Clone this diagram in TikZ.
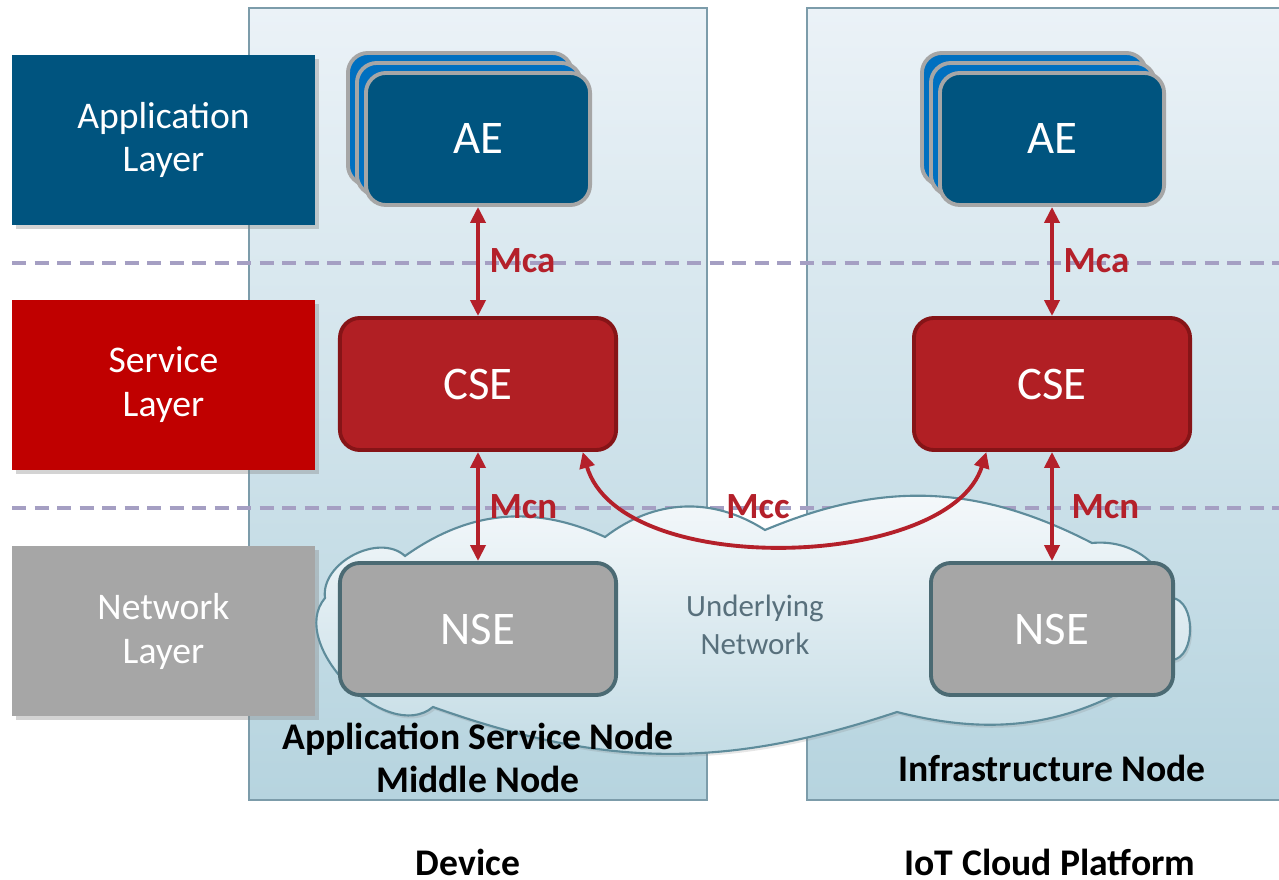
\documentclass[tikz,border=0pt]{standalone}
\usepackage{fontspec}
\setmainfont{Carlito}
\usetikzlibrary{shadows,arrows.meta}
\definecolor{aeblue}{HTML}{00547F}
\definecolor{aeback}{HTML}{0070C0}
\definecolor{aegray}{HTML}{A6A6A6}
\definecolor{csered}{HTML}{B11F24}
\definecolor{csedark}{HTML}{861417}
\definecolor{srvred}{HTML}{C00000}
\definecolor{nsegray}{HTML}{A6A6A6}
\definecolor{nseline}{HTML}{4B6A73}
\definecolor{paneltop}{HTML}{EBF2F7}
\definecolor{panelbot}{HTML}{B6D4DF}
\definecolor{panelline}{HTML}{7C9CAA}
\definecolor{dashcol}{HTML}{A59FC3}
\definecolor{arrowred}{HTML}{B4202A}
\definecolor{cloudline}{HTML}{5E8C9B}
\definecolor{cloudtxt}{HTML}{58707C}
\tikzstyle{layer}=[rectangle, minimum width=3.03cm, minimum height=1.7cm, inner sep=0pt, align=center, text=white, font=\fontsize{10.7}{12.5}\selectfont, drop shadow={opacity=0.35, shadow xshift=0.04cm, shadow yshift=-0.04cm}]
\tikzstyle{entity}=[rectangle, rounded corners=0.2cm, line width=1.1pt, inner sep=0pt, text=white, font=\fontsize{13.3}{16}\selectfont]
\tikzstyle{panel}=[draw=panelline, line width=0.45pt, top color=paneltop, bottom color=panelbot]
\tikzstyle{layerline}=[draw=dashcol, line width=1.4pt, dash pattern=on 4pt off 2.4pt]
\tikzstyle{cloudfill}=[draw=cloudline, line width=0.6pt, top color=white!60!paneltop, bottom color=panelbot!85, drop shadow={opacity=0.2, shadow xshift=0.02cm, shadow yshift=-0.03cm}]
\tikzstyle{link}=[draw=arrowred, line width=1.1pt, {Triangle[length=0.16cm,width=0.15cm]}-{Triangle[length=0.16cm,width=0.15cm]}]
\tikzstyle{ref}=[text=arrowred, font=\bfseries\fontsize{10.5}{12}\selectfont, inner sep=0pt]
\tikzstyle{annot}=[align=center, font=\bfseries\fontsize{10.7}{12.2}\selectfont]
\newcommand{\aestack}[3]
{
  \node[entity, fill=aeback, draw=aegray, minimum width=2.24cm, minimum height=1.32cm] at (#2-18,#3-20){};
  \node[entity, fill=aeback, draw=aegray, minimum width=2.24cm, minimum height=1.32cm] at (#2-9,#3-10){};
  \node[entity, fill=aeblue, draw=aegray, minimum width=2.24cm, minimum height=1.32cm](#1) at (#2,#3){AE};
}

\begin{document}
\begin{tikzpicture}[x=0.01cm, y=-0.01cm]
	\useasboundingbox (0,0) rectangle (1279,880);

	% node panels
	\draw[panel] (249,8) rectangle (707,800);
	\draw[panel] (807,8) rectangle (1290,800);

	% layers
	\node[layer, fill=aeblue](appL) at (163.5,140){Application\\Layer};
	\node[layer, fill=srvred](srvL) at (163.5,385){Service\\Layer};
	\node[layer, fill=nsegray](netL) at (163.5,631){Network\\Layer};

	\draw[layerline] (12,263) -- (1279,263);
	\draw[layerline] (12,508) -- (1279,508);

	% underlying network cloud
	\path[cloudfill] (325,598) to[bend left=70] (405,556) to[bend left=30] (605,537)
		to[bend left=35] (765,530) to[bend left=25] (1092,543) to[bend left=40] (1172,598)
		to[bend left=85] (1172,660) to[bend left=25] (897,712) to[bend left=19] (433,707)
		to[bend left=85] cycle;
	\node[align=center, text=cloudtxt, font=\fontsize{8.8}{10.8}\selectfont](net) at (755,625){Underlying\\Network};

	\aestack{aeL}{478}{139}
	\aestack{aeR}{1052}{139}

	\node[entity, fill=csered, draw=csedark, minimum width=2.76cm, minimum height=1.32cm](cseL) at (478,384){CSE};
	\node[entity, fill=csered, draw=csedark, minimum width=2.76cm, minimum height=1.32cm](cseR) at (1052,384){CSE};
	\node[entity, fill=nsegray, draw=nseline, minimum width=2.76cm, minimum height=1.32cm](nseL) at (478,629){NSE};
	\node[entity, fill=nsegray, draw=nseline, minimum width=2.42cm, minimum height=1.32cm](nseR) at (1052,629){NSE};

	\draw[link] (aeL.south) -- (cseL.north);
	\draw[link] (cseL.south) -- (nseL.north);
	\draw[link] (aeR.south) -- (cseR.north);
	\draw[link] (cseR.south) -- (nseR.north);
	\draw[link] (cseL.-33) .. controls (620,580) and (950,570) .. (cseR.-134);

	\node[ref, anchor=west](mcaL) at (489,261){Mca};
	\node[ref, anchor=west](mcaR) at (1063,261){Mca};
	\node[ref, anchor=west](mcnL) at (489,507){Mcn};
	\node[ref, anchor=west](mcnR) at (1071,507){Mcn};
	\node[ref](mcc) at (758,507){Mcc};

	\node[annot](asn) at (478,758){Application Service Node\\Middle Node};
	\node[annot](in) at (1052,768){Infrastructure Node};
	\node[annot](dev) at (468,862){Device};
	\node[annot](cloud) at (1050,862){IoT Cloud Platform};
\end{tikzpicture}
\end{document}
